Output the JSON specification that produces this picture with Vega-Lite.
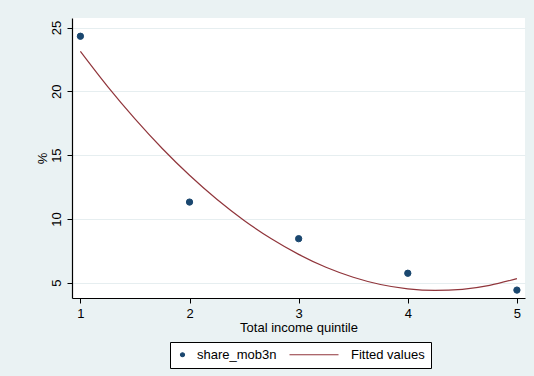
{
  "$schema": "https://vega.github.io/schema/vega-lite/v6.json",
  "width": 453,
  "height": 280,
  "autosize": {"type": "none"},
  "padding": {"left": 72, "top": 18, "right": 9, "bottom": 78},
  "background": "#eaf2f3",
  "config": {
    "font": "Liberation Sans",
    "view": {"fill": "white", "stroke": null},
    "axis": {
      "labelFontSize": 13,
      "labelColor": "black",
      "titleFontSize": 13,
      "titleFontWeight": "normal",
      "titleColor": "black",
      "domainColor": "black",
      "domainWidth": 1.2,
      "tickColor": "black",
      "tickWidth": 1,
      "tickSize": 5
    },
    "legend": {
      "orient": "none",
      "legendX": 98,
      "legendY": 324,
      "direction": "horizontal",
      "title": null,
      "fillColor": "white",
      "strokeColor": "black",
      "padding": 6,
      "symbolSize": 16,
      "symbolStrokeWidth": 1.2,
      "labelFontSize": 13,
      "labelColor": "black",
      "labelOffset": 8,
      "columnPadding": 10,
      "labelLimit": 200
    }
  },
  "datasets": {
    "points": [
      {"quintile": 1, "share": 24.32, "series": "share_mob3n"},
      {"quintile": 2, "share": 11.32, "series": "share_mob3n"},
      {"quintile": 3, "share": 8.45, "series": "share_mob3n"},
      {"quintile": 4, "share": 5.74, "series": "share_mob3n"},
      {"quintile": 5, "share": 4.42, "series": "share_mob3n"}
    ],
    "fit": [
      {"quintile": 1.0, "share": 23.13, "series": "Fitted values"},
      {"quintile": 1.25, "share": 20.37, "series": "Fitted values"},
      {"quintile": 1.5, "share": 17.84, "series": "Fitted values"},
      {"quintile": 1.75, "share": 15.52, "series": "Fitted values"},
      {"quintile": 2.0, "share": 13.42, "series": "Fitted values"},
      {"quintile": 2.25, "share": 11.54, "series": "Fitted values"},
      {"quintile": 2.5, "share": 9.88, "series": "Fitted values"},
      {"quintile": 2.75, "share": 8.44, "series": "Fitted values"},
      {"quintile": 3.0, "share": 7.22, "series": "Fitted values"},
      {"quintile": 3.25, "share": 6.21, "series": "Fitted values"},
      {"quintile": 3.5, "share": 5.43, "series": "Fitted values"},
      {"quintile": 3.75, "share": 4.86, "series": "Fitted values"},
      {"quintile": 4.0, "share": 4.52, "series": "Fitted values"},
      {"quintile": 4.25, "share": 4.39, "series": "Fitted values"},
      {"quintile": 4.5, "share": 4.48, "series": "Fitted values"},
      {"quintile": 4.75, "share": 4.79, "series": "Fitted values"},
      {"quintile": 5.0, "share": 5.32, "series": "Fitted values"}
    ]
  },
  "layer": [
    {
      "data": {"name": "fit"},
      "mark": {"type": "line", "strokeWidth": 1.2, "interpolate": "monotone"},
      "encoding": {
        "x": {
          "field": "quintile", "type": "quantitative",
          "scale": {"domain": [0.923, 5.074], "nice": false, "zero": false},
          "axis": {"values": [1, 2, 3, 4, 5], "title": "Total income quintile", "grid": false, "labelFlush": false, "labelPadding": 4, "titlePadding": 1, "format": "d"}
        },
        "y": {
          "field": "share", "type": "quantitative",
          "scale": {"domain": [3.8, 25.75], "nice": false, "zero": false},
          "axis": {"values": [5, 10, 15, 20, 25], "title": "%", "grid": true, "gridColor": "#e6eef0", "gridWidth": 1, "labelAngle": -90, "labelAlign": "center", "labelBaseline": "bottom", "labelPadding": 4, "titlePadding": 1, "labelFlush": false, "format": "d"}
        },
        "stroke": {
          "field": "series", "type": "nominal",
          "scale": {"domain": ["share_mob3n", "Fitted values"], "range": ["#1a476f", "#90353b"]}
        }
      }
    },
    {
      "data": {"name": "points"},
      "mark": {"type": "point", "filled": true, "size": 40, "strokeWidth": 1, "opacity": 1},
      "encoding": {
        "x": {"field": "quintile", "type": "quantitative"},
        "y": {"field": "share", "type": "quantitative"},
        "fill": {
          "field": "series", "type": "nominal",
          "scale": {"domain": ["share_mob3n", "Fitted values"], "range": ["#1a476f", "#90353b"]}
        },
        "stroke": {"field": "series", "type": "nominal"},
        "shape": {
          "field": "series", "type": "nominal",
          "scale": {"domain": ["share_mob3n", "Fitted values"], "range": ["circle", "M-23.5,0H1"]}
        }
      }
    }
  ]
}
